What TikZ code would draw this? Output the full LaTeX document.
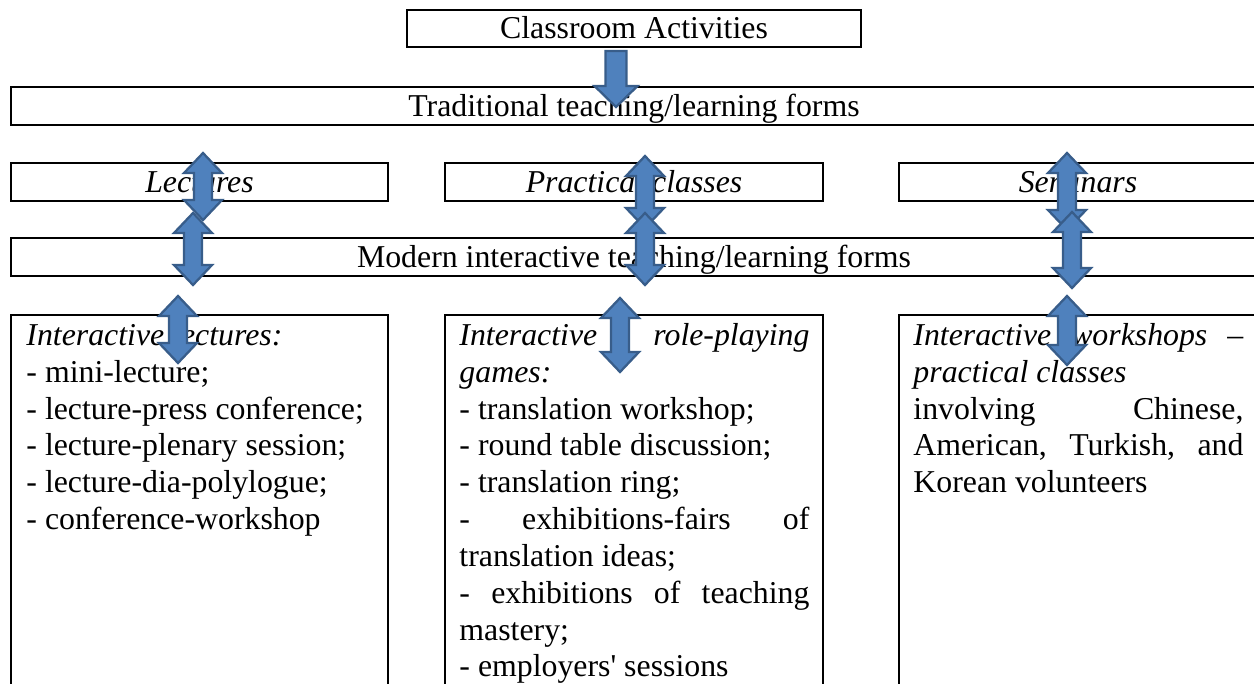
\documentclass[tikz,border=0pt]{standalone}
\usepackage{fontspec}
\setmainfont{Liberation Serif}
\usepackage{tikz}
\usetikzlibrary{calc}
\definecolor{arrowfill}{HTML}{4F81BD}
\definecolor{arrowedge}{HTML}{385D8A}
\newdimen\pxu \pxu=0.44pt
\setlength\parindent{0pt}
% plain paragraph with the font's own word spaces
\newcommand\justcol{\leftskip=0pt\rightskip=0pt\spaceskip=0pt\xspaceskip=0pt\parfillskip=0pt plus 1fil\relax}
% one line spread to the full column
\newcommand\jline[1]{\makebox[\hsize][s]{#1}}
\tikzset{
  box/.style={draw=black, line width=0.9pt, inner sep=0pt, outer sep=0pt, anchor=north west},
  head/.style={font=\fontsize{14}{16.2}\selectfont, text height=9.6pt, text depth=0.4pt},
  body/.style={font=\fontsize{14}{16.2}\selectfont, inner sep=0pt, anchor=north west},
  blockarrow/.style={fill=arrowfill, draw=arrowedge, line width=1pt, line join=miter},
}
% double block arrow, tip #1 above, tip #2 below
\newcommand\dblarrow[2]{%
  \draw[blockarrow] (#1) -- ++(19,20) -- ++(-10,0) -- ($(#2)+(9,-20)$) -- ++(10,0)
    -- (#2) -- ++(-19,-20) -- ++(10,0) -- ($(#1)+(-9,20)$) -- ++(-10,0) -- cycle;}

\begin{document}
\begin{tikzpicture}[x=0.44pt,y=-0.44pt]
  \useasboundingbox (0,0) rectangle (1254,683);
  \clip (0,0) rectangle (1254,683);

  \node[box,head,minimum width=454*\pxu,minimum height=37*\pxu] (act) at (407,10) {Classroom Activities};
  \node[box,head,minimum width=1246*\pxu,minimum height=38*\pxu] (trad) at (11,87) {Traditional teaching/learning forms};
  \node[box,head,minimum width=377*\pxu,minimum height=38*\pxu] (lect) at (11,163) {\textit{Lectures}};
  \node[box,head,minimum width=378*\pxu,minimum height=38*\pxu] (prac) at (445,163) {\textit{Practical classes}};
  \node[box,head,minimum width=358*\pxu,minimum height=38*\pxu] (semi) at (899,163) {\textit{Seminars}};
  \node[box,head,minimum width=1246*\pxu,minimum height=38*\pxu] (modern) at (11,238) {Modern interactive teaching/learning forms};
  \node[box,minimum width=377*\pxu,minimum height=400*\pxu] (ilect) at (11,315) {};
  \node[box,minimum width=378*\pxu,minimum height=400*\pxu] (iprac) at (445,315) {};
  \node[box,minimum width=358*\pxu,minimum height=400*\pxu] (isemi) at (899,315) {};

  \node[body,text width=153.6pt] (ilecttext) at ([shift={(15,8)}]ilect.north west) {\justcol
    \textit{Interactive lectures:}\\
    - mini-lecture;\\
    - lecture-press conference;\\
    - lecture-plenary session;\\
    - lecture-dia-polylogue;\\
    - conference-workshop};
  \node[body,text width=154pt] (ipractext) at ([shift={(14,8)}]iprac.north west) {\justcol
    \jline{\textit{Interactive role-playing}}\\
    \textit{games:}\\
    - translation workshop;\\
    - round table discussion;\\
    - translation ring;\\
    \jline{- exhibitions-fairs of}\\
    translation ideas;\\
    \jline{- exhibitions of teaching}\\
    mastery;\\
    - employers\textquotesingle{} sessions};
  \node[body,text width=145.2pt] (isemitext) at ([shift={(14,8)}]isemi.north west) {\justcol
    \jline{\textit{Interactive workshops --}}\\
    \textit{practical classes}\\
    \jline{involving Chinese,}\\
    \jline{American, Turkish, and}\\
    Korean volunteers};

  % arrow ends
  \coordinate (dtail) at (616,51);
  \coordinate (dtip) at (616,107);
  \coordinate (la) at (203,153);  \coordinate (lb) at (203,220);
  \coordinate (lc) at (193,213);  \coordinate (ld) at (193,285);
  \coordinate (le) at (178,296);  \coordinate (lf) at (178,363);
  \coordinate (pa) at (645,156);  \coordinate (pb) at (645,228);
  \coordinate (pc) at (645,213);  \coordinate (pd) at (645,285);
  \coordinate (pe) at (620,298);  \coordinate (pf) at (620,372);
  \coordinate (sa) at (1067,153); \coordinate (sb) at (1067,230);
  \coordinate (sc) at (1072,212); \coordinate (sd) at (1072,288);
  \coordinate (se) at (1067,296); \coordinate (sf) at (1067,365);

  \draw[blockarrow] ($(dtail)+(-10.5,0)$) -- ++(21,0) -- ($(dtip)+(10.5,-21)$) -- ++(11,0)
    -- (dtip) -- ++(-21.5,-21) -- ++(11,0) -- cycle;
  \dblarrow{la}{lb}
  \dblarrow{lc}{ld}
  \dblarrow{le}{lf}
  \dblarrow{pa}{pb}
  \dblarrow{pc}{pd}
  \dblarrow{pe}{pf}
  \dblarrow{sa}{sb}
  \dblarrow{sc}{sd}
  \dblarrow{se}{sf}
\end{tikzpicture}
\end{document}
